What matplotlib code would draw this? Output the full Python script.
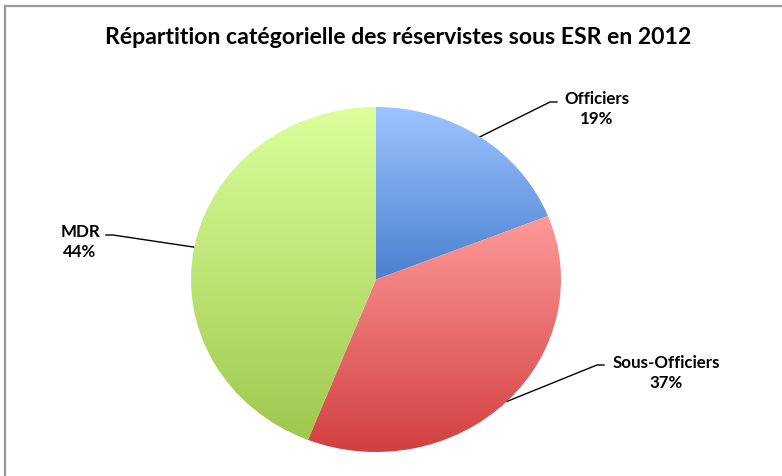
import numpy as np
import matplotlib
matplotlib.use("Agg")
import matplotlib.pyplot as plt
from matplotlib.colors import LinearSegmentedColormap

# data
categories = ["Officiers", "Sous-Officiers", "MDR"]
shares = [19, 37, 44]
top_colors = ["#9ec4ff", "#ff9a9a", "#dcff9c"]
bottom_colors = ["#4a80cf", "#d24040", "#a0c84e"]
title = "Répartition catégorielle des réservistes sous ESR en 2012"

# label boxes (figure pixels): elbow point, text anchor
label_pos = [((550, 103), (597, 109)),
             ((597, 366), (666, 373)),
             ((113, 236), (80, 242))]

W, H = 782, 477
plt.rcParams['font.family'] = ['Lato', 'DejaVu Sans']
fig = plt.figure(figsize=(W / 100, H / 100), dpi=100)

# overlay axes in pixel coordinates
over = fig.add_axes([0, 0, 1, 1])
over.set_xlim(0, W)
over.set_ylim(H, 0)
over.axis('off')

# chart frame (top + left visible)
over.plot([5, W], [7, 7], color='#9a9a9a', lw=1.6)
over.plot([5, 5], [7, H], color='#9a9a9a', lw=1.6)

over.text(398, 37, title, ha='center', va='center', fontsize=16.6,
          fontweight='bold', color='black')

# pie axes (slightly elliptical, as in the original)
cx, cy, rx, ry = 376, 280.5, 185, 172.5
pie_ax = fig.add_axes([(cx - rx) / W, (H - cy - ry) / H, 2 * rx / W, 2 * ry / H])
wedges, _ = pie_ax.pie(shares, startangle=90, counterclock=False,
                       wedgeprops=dict(linewidth=0))
pie_ax.set_aspect('auto')
pie_ax.axis('off')

for w, c1, c2 in zip(wedges, top_colors, bottom_colors):
    w.set_facecolor('none')
    t1, t2 = np.deg2rad(w.theta1), np.deg2rad(w.theta2)
    ang = np.linspace(t1, t2, 200)
    ys = np.concatenate([[0], np.sin(ang)])
    y0, y1 = ys.min(), ys.max()
    cmap = LinearSegmentedColormap.from_list('g', [c2, c1])
    grad = np.linspace(0, 1, 256).reshape(-1, 1)
    im = pie_ax.imshow(grad, cmap=cmap, origin='lower', aspect='auto',
                       extent=[-1, 1, y0, y1], interpolation='bilinear')
    im.set_clip_path(w)

pie_ax.set_xlim(-1, 1)
pie_ax.set_ylim(-1, 1)

# labels with leader lines
for w, name, val, (elbow, tpos) in zip(wedges, categories, shares, label_pos):
    mid = np.deg2rad((w.theta1 + w.theta2) / 2)
    ax_x = cx + rx * np.cos(mid)
    ax_y = cy - ry * np.sin(mid)
    end_x = elbow[0] + (7 if tpos[0] > elbow[0] else -7)
    over.plot([ax_x, elbow[0], end_x], [ax_y, elbow[1], elbow[1]],
              color='black', lw=1.0, zorder=5)
    over.text(tpos[0], tpos[1], f"{name}\n{val}%", ha='center', va='center',
              fontsize=12.2, fontweight='bold', linespacing=1.35, zorder=5)

fig.savefig('out.png', dpi=100)
